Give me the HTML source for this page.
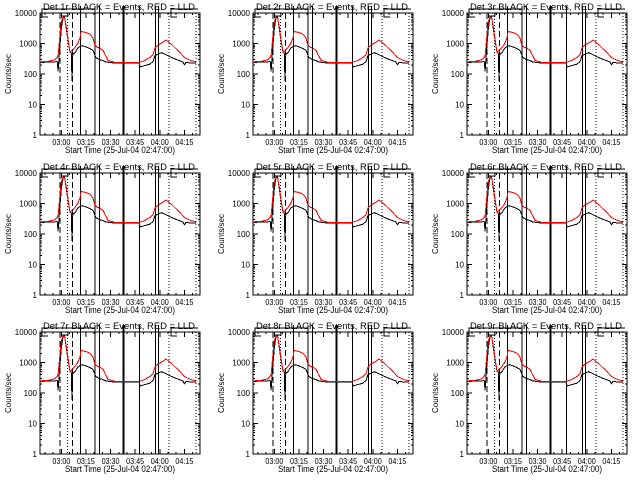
<!DOCTYPE html>
<html><head><meta charset="utf-8"><style>
body{margin:0;background:#fff;}
svg{display:block;font-family:"Liberation Sans",sans-serif;}
</style></head><body>
<svg id="c" width="640" height="480" viewBox="0 0 640 480" shape-rendering="crispEdges"></svg>
<script>
const detectors = ["1r","2r","3r","4r","5r","6r","7r","8r","9r"];
const blackTimes = [0,9,10.5,11,11.5,13,14,15,16,17.5,18.3,19,19.5,20,21.3,23,24.4,26,30,32.3,33.4,34,36,38,40,45,60.4,61,64,67,69,70,72,74,76,80,83,87,88,89,92,95];
const blackVals  = [240,250,260,120,300,3000,7000,7500,3000,900,520,550,60,450,500,700,800,850,700,600,420,350,300,280,250,230,230,170,190,210,260,400,450,500,450,350,300,250,200,240,230,230];
const redTimes = [0,5,9,10.5,11,12,13,14,15,16,17.5,18.3,19.5,21.3,23,24.4,25,28,30.5,32.3,33.4,35,36.6,38.4,40,41.5,45.7,60.4,64,67,69,70,72,75,76.8,80.5,85.4,88,91.5,95];
const redVals  = [250,260,290,350,400,1500,5000,7500,7000,3500,1000,520,600,750,1000,1500,2500,2300,2000,1500,900,750,700,600,400,280,240,240,280,350,450,700,900,1100,1300,900,500,350,280,250];
const dashedLines = [12.2,19.9];
const dottedLines = [16.9,78.7,95.1];
const solidLines = [24.8,33.4,36.2,50.8,60.5,70.5,72.1];
const xTickLabels = ["03:00","03:15","03:30","03:45","04:00","04:15"];
const xTickMinutes = [13,28,43,58,73,88];
const yTickLabels = ["1","10","100","1000","10000"];
const yTickVals = [1,10,100,1000,10000];

const svg = document.getElementById('c');
const NS = "http://www.w3.org/2000/svg";
function mk(tag, attrs, parent){const e=document.createElementNS(NS,tag);for(const k in attrs)e.setAttribute(k,attrs[k]);parent.appendChild(e);return e;}

detectors.forEach((d,i)=>{
  const col=i%3,row=Math.floor(i/3);
  const ox=Math.round(col*213.33), oy=Math.round(row*159.5);
  const L=ox+40,R=ox+200,T=oy+13,B=oy+135;
  const xs=m=>L+(R-L)*m/97.5;
  const ys=v=>B-(B-T)*Math.log10(v)/4;
  const g=mk('g',{},svg);
  
  
  const box=mk('rect',{x:L,y:T,width:R-L,height:B-T,fill:'none',stroke:'#000','stroke-width':1},g);
  
  
  yTickVals.forEach((v,k)=>{
    const y=ys(v);
    mk('line',{x1:L,x2:L+5,y1:y,y2:y,stroke:'#000'},g);
    mk('line',{x1:R,x2:R-5,y1:y,y2:y,stroke:'#000'},g);
    const t=mk('text',{x:L-3,y:y+3,'font-size':8,'text-anchor':'end'},g);
    t.textContent=yTickLabels[k];
    
    
    if(k<4)for(let m=2;m<10;m++){const yy=ys(v*m);mk('line',{x1:L,x2:L+2,y1:yy,y2:yy,stroke:'#000'},g);mk('line',{x1:R,x2:R-2,y1:yy,y2:yy,stroke:'#000'},g);}
  });
  xTickMinutes.forEach((m,k)=>{
    const x=xs(m);
    mk('line',{x1:x,x2:x,y1:B,y2:B-5,stroke:'#000'},g);
    mk('line',{x1:x,x2:x,y1:T,y2:T+5,stroke:'#000'},g);
    const t=mk('text',{x:x,y:B+10,'font-size':8,'text-anchor':'middle',textLength:18,lengthAdjust:'spacingAndGlyphs'},g);
    t.textContent=xTickLabels[k];
    
    
  });
  for(let m=3;m<97;m+=5){const x=xs(m);mk('line',{x1:x,x2:x,y1:B,y2:B-2,stroke:'#000'},g);mk('line',{x1:x,x2:x,y1:T,y2:T+2,stroke:'#000'},g);}
  dashedLines.forEach(m=>{const l=mk('line',{x1:xs(m),x2:xs(m),y1:T,y2:B,stroke:'#000','stroke-dasharray':'6,3'},g);});
  dottedLines.forEach(m=>{const l=mk('line',{x1:xs(m),x2:xs(m),y1:T,y2:B,stroke:'#000','stroke-dasharray':'1,2'},g);});
  solidLines.forEach((m,k)=>{const l=mk('line',{x1:xs(m),x2:xs(m),y1:T-7,y2:B,stroke:'#000','stroke-width':k==3?2:1},g);});
  mk('path',{d:`M${L+8} ${T+4}H${L+2}V${T-4}H${L+55}`,fill:'none',stroke:'#000'},g);
  mk('path',{d:`M${L+22} ${T+3}H${L+28}V${T}`,fill:'none',stroke:'#000'},g);
  mk('path',{d:`M${L+137} ${T+4}H${L+131}V${T-4}H${L+158}`,fill:'none',stroke:'#000'},g);
  const bp=blackTimes.map((m,k)=>`${xs(m).toFixed(1)},${ys(blackVals[k]).toFixed(1)}`).join(' ');
  const bl=mk('polyline',{points:bp,fill:'none',stroke:'#000','stroke-width':1},g);
  
  
  const rp=redTimes.map((m,k)=>`${xs(m).toFixed(1)},${ys(redVals[k]).toFixed(1)}`).join(' ');
  const rl=mk('polyline',{points:rp,fill:'none',stroke:'#f00','stroke-width':1},g);
  
  
  const tt=mk('text',{x:ox+119,y:oy+10,'font-size':9,'text-anchor':'middle',textLength:152,lengthAdjust:'spacingAndGlyphs'},g);
  tt.textContent='Det '+d+' BLACK = Events, RED = LLD';
  
  
  const xt=mk('text',{x:ox+120,y:oy+153,'font-size':9,'text-anchor':'middle',textLength:110,lengthAdjust:'spacingAndGlyphs'},g);
  xt.textContent='Start Time (25-Jul-04 02:47:00)';
  
  
  const yt=mk('text',{x:0,y:0,'font-size':8,'text-anchor':'middle',transform:`translate(${ox+11},${oy+74}) rotate(-90)`},g);
  yt.textContent='Counts/sec';
  
  
});
</script>
</body></html>
